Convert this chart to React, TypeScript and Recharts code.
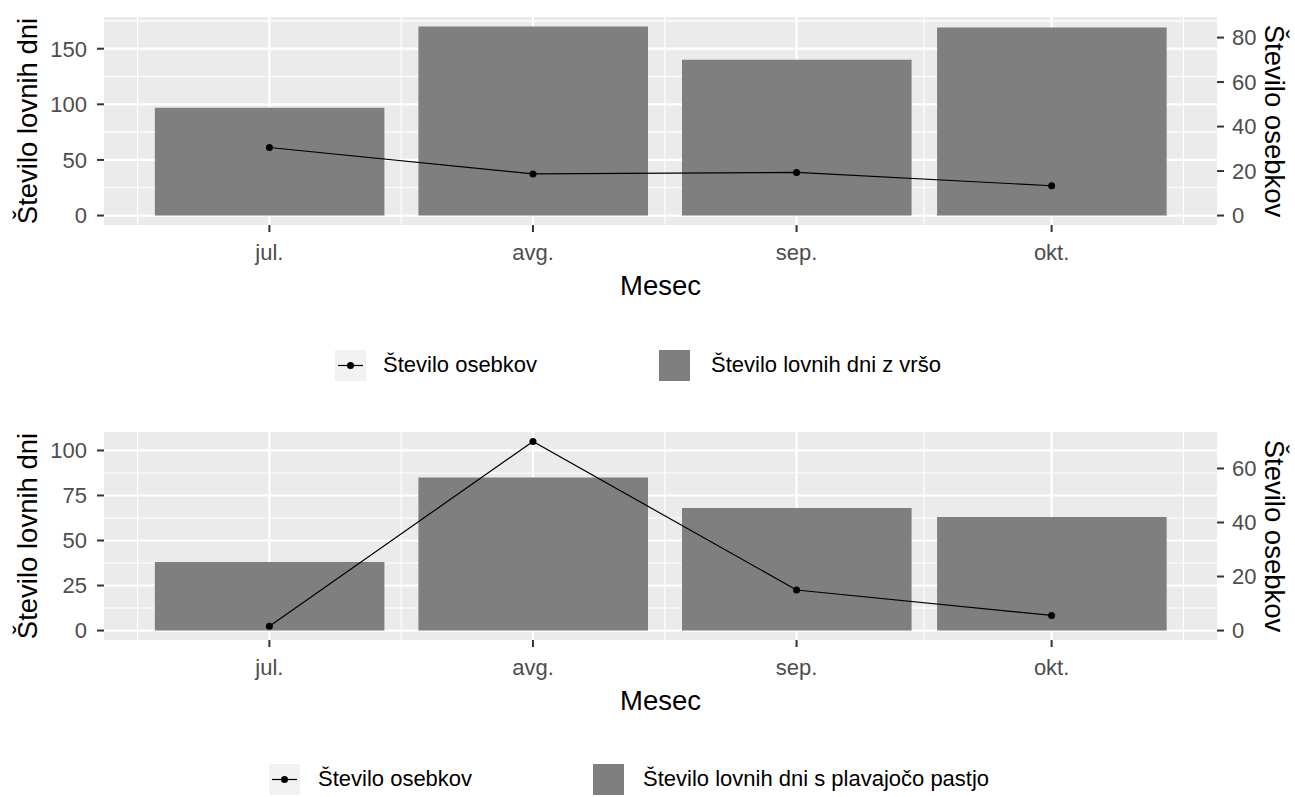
import React from "react";
import { ComposedChart, Bar, Line, XAxis, YAxis, CartesianGrid } from "recharts";

// ---- data ----
// x is a date axis: days counted from the July point
const months = ["jul.", "avg.", "sep.", "okt."];
const monthDay = [0, 31, 62, 92];
const minorDay = [-15.5, 15.5, 46.5, 77, 107.5];

const vrsaDays = [97, 170, 140, 169];
const vrsaCount = [30.6, 18.7, 19.4, 13.4];

const pastDays = [38, 85, 68, 63];
const pastCount = [1.6, 70, 15, 5.6];

const vrsaLeftTicks = [0, 50, 100, 150];
const vrsaLeftMinor = [25, 75, 125, 175];
const vrsaRightTicks = [0, 20, 40, 60, 80];

const pastLeftTicks = [0, 25, 50, 75, 100];
const pastLeftMinor = [12.5, 37.5, 62.5, 87.5];
const pastRightTicks = [0, 20, 40, 60];

// ---- layout ----
const W = 1295;
const LEFT_W = 104;
const RIGHT_W = 78;
const PLOT_TOP = 17;
const PLOT_H = 208;
const X_AXIS_H = 95;
const PLOT_W = W - LEFT_W - RIGHT_W;
const FONT = "'Liberation Sans', Arial, sans-serif";

// x range like ggplot: bars 0.9 * 30 days wide plus 5% expansion
const BAR_DAYS = 27;
const xSpan = monthDay[3] - monthDay[0] + BAR_DAYS;
const xLo = monthDay[0] - BAR_DAYS / 2 - 0.05 * xSpan;
const xHi = monthDay[3] + BAR_DAYS / 2 + 0.05 * xSpan;
const barPx = (BAR_DAYS * PLOT_W) / (xHi - xLo);

interface PanelProps {
  days: number[];
  counts: number[];
  ratio: number;
  leftTicks: number[];
  leftMinor: number[];
  rightTicks: number[];
}

function Panel({ days, counts, ratio, leftTicks, leftMinor, rightTicks }: PanelProps) {
  const data = months.map((m, i) => ({
    m,
    d: monthDay[i],
    days: days[i],
    count: counts[i],
  }));
  const maxV = Math.max(...days, ...counts.map((c) => c * ratio));
  const lo = -0.05 * maxV;
  const hi = 1.05 * maxV;

  return (
    <ComposedChart
      width={W}
      height={PLOT_TOP + PLOT_H + X_AXIS_H}
      data={data}
      margin={{ top: PLOT_TOP, right: 0, bottom: 0, left: 0 }}
      style={{ fontFamily: FONT }}
    >
      <CartesianGrid
        yAxisId="left"
        fill="#EBEBEB"
        stroke="#FFFFFF"
        strokeWidth={1.1}
        horizontalValues={leftMinor}
        verticalValues={minorDay}
      />
      <CartesianGrid
        yAxisId="left"
        stroke="#FFFFFF"
        strokeWidth={2.2}
        horizontalValues={leftTicks}
        verticalValues={monthDay}
      />
      <XAxis
        type="number"
        dataKey="d"
        domain={[xLo, xHi]}
        allowDataOverflow
        ticks={monthDay}
        tickFormatter={(v: number) => months[monthDay.indexOf(v)]}
        height={X_AXIS_H}
        axisLine={false}
        tickLine={{ stroke: "#333333", strokeWidth: 2 }}
        tickSize={7}
        tickMargin={12}
        tick={{ fill: "#4D4D4D", fontSize: 22 }}
        label={{
          content: ({ viewBox }: any) => (
            <text
              x={viewBox.x + viewBox.width / 2}
              y={viewBox.y + 70}
              textAnchor="middle"
              fontSize={27.5}
              fill="#000"
            >
              Mesec
            </text>
          ),
        }}
      />
      <YAxis
        yAxisId="left"
        width={LEFT_W}
        domain={[lo, hi]}
        allowDataOverflow
        ticks={leftTicks}
        axisLine={false}
        tickLine={{ stroke: "#333333", strokeWidth: 2 }}
        tickSize={7}
        tickMargin={10}
        tick={{ fill: "#4D4D4D", fontSize: 22 }}
        label={{
          content: ({ viewBox }: any) => {
            const x = viewBox.x + 37;
            const y = viewBox.y + viewBox.height / 2;
            return (
              <text
                x={x}
                y={y}
                textAnchor="middle"
                fontSize={27.5}
                fill="#000"
                transform={`rotate(-90, ${x}, ${y})`}
              >
                Število lovnih dni
              </text>
            );
          },
        }}
      />
      <YAxis
        yAxisId="right"
        orientation="right"
        width={RIGHT_W}
        domain={[lo / ratio, hi / ratio]}
        allowDataOverflow
        ticks={rightTicks}
        axisLine={false}
        tickLine={{ stroke: "#333333", strokeWidth: 2 }}
        tickSize={7}
        tickMargin={8}
        tick={{ fill: "#4D4D4D", fontSize: 22 }}
        label={{
          content: ({ viewBox }: any) => {
            const x = viewBox.x + 48;
            const y = viewBox.y + viewBox.height / 2;
            return (
              <text
                x={x}
                y={y}
                textAnchor="middle"
                fontSize={27.5}
                fill="#000"
                transform={`rotate(90, ${x}, ${y})`}
              >
                Število osebkov
              </text>
            );
          },
        }}
      />
      <Bar
        yAxisId="left"
        dataKey="days"
        fill="#7F7F7F"
        barSize={barPx}
        isAnimationActive={false}
      />
      <Line
        yAxisId="right"
        dataKey="count"
        type="linear"
        stroke="#000000"
        strokeWidth={1.2}
        dot={{ r: 3.5, fill: "#000000", stroke: "none" }}
        activeDot={false}
        isAnimationActive={false}
      />
    </ComposedChart>
  );
}

interface LegendProps {
  top: number;
  lineKeyX: number;
  lineTextX: number;
  barKeyX: number;
  barTextX: number;
  barLabel: string;
}

function PanelLegend({ top, lineKeyX, lineTextX, barKeyX, barTextX, barLabel }: LegendProps) {
  const text: React.CSSProperties = {
    position: "absolute",
    top: top - 14,
    fontSize: 22,
    lineHeight: "28px",
    color: "#000",
    whiteSpace: "nowrap",
  };
  return (
    <>
      <svg
        width={31}
        height={31}
        style={{ position: "absolute", left: lineKeyX, top: top - 15 }}
      >
        <rect x={0} y={0} width={31} height={31} fill="#F2F2F2" />
        <line x1={3} x2={28} y1={15.5} y2={15.5} stroke="#000" strokeWidth={1.2} />
        <circle cx={15.5} cy={15.5} r={3.5} fill="#000" />
      </svg>
      <div style={{ ...text, left: lineTextX }}>Število osebkov</div>
      <svg
        width={31}
        height={31}
        style={{ position: "absolute", left: barKeyX, top: top - 15 }}
      >
        <rect x={0} y={0} width={31} height={31} fill="#7F7F7F" />
      </svg>
      <div style={{ ...text, left: barTextX }}>{barLabel}</div>
    </>
  );
}

export default function App() {
  return (
    <div
      style={{
        position: "absolute",
        left: 0,
        top: 0,
        width: W,
        height: 797,
        background: "#fff",
        fontFamily: FONT,
      }}
    >
      <div style={{ position: "absolute", left: 0, top: 0 }}>
        <Panel
          days={vrsaDays}
          counts={vrsaCount}
          ratio={2}
          leftTicks={vrsaLeftTicks}
          leftMinor={vrsaLeftMinor}
          rightTicks={vrsaRightTicks}
        />
      </div>
      <PanelLegend
        top={365}
        lineKeyX={335}
        lineTextX={383}
        barKeyX={659}
        barTextX={711}
        barLabel="Število lovnih dni z vršo"
      />
      <div style={{ position: "absolute", left: 0, top: 415 }}>
        <Panel
          days={pastDays}
          counts={pastCount}
          ratio={1.5}
          leftTicks={pastLeftTicks}
          leftMinor={pastLeftMinor}
          rightTicks={pastRightTicks}
        />
      </div>
      <PanelLegend
        top={779}
        lineKeyX={269}
        lineTextX={318}
        barKeyX={593}
        barTextX={643}
        barLabel="Število lovnih dni s plavajočo pastjo"
      />
    </div>
  );
}
